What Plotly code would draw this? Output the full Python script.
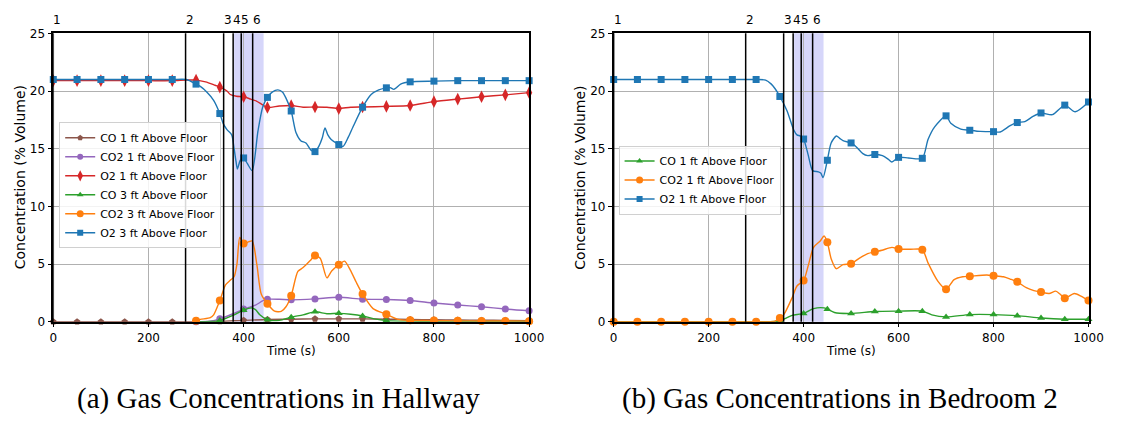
import plotly.graph_objects as go

# ---------------- data ----------------
event_times = [0, 278, 358, 378, 395, 419]
event_labels = ["1", "2", "3", "4", "5", "6"]
shade_span = [380, 442]

# Hallway (a)
hall_co_1ft_t = [0, 50, 100, 150, 200, 250, 300, 350, 400, 450, 500, 550, 600, 650, 700, 750, 800, 850, 900, 950, 1000]
hall_co_1ft_v = [0, 0, 0, 0, 0, 0, 0, 0.02, 0.12, 0.2, 0.22, 0.25, 0.25, 0.25, 0.22, 0.2, 0.17, 0.15, 0.13, 0.12, 0.1]

hall_co2_1ft_t = [300, 330, 350, 375, 400, 425, 440, 450, 475, 500, 550, 600, 650, 700, 750, 800, 850, 900, 950, 1000]
hall_co2_1ft_v = [0, 0.05, 0.25, 0.65, 1.1, 1.45, 1.8, 1.95, 1.95, 1.9, 1.98, 2.12, 1.95, 1.93, 1.84, 1.62, 1.45, 1.3, 1.1, 0.95]

hall_o2_1ft_t = [0, 50, 100, 150, 200, 250, 280, 300, 320, 340, 350, 365, 372, 385, 400, 415, 426, 440, 450, 475, 500, 525, 550, 575, 600, 625, 650, 700, 750, 800, 850, 900, 950, 1000]
hall_o2_1ft_v = [20.9, 20.9, 20.9, 20.9, 20.9, 20.9, 20.95, 20.95, 20.8, 20.5, 20.34, 20.0, 19.7, 19.55, 19.5, 19.3, 19.15, 18.8, 18.58, 18.7, 18.75, 18.6, 18.62, 18.6, 18.48, 18.6, 18.62, 18.67, 18.75, 19.08, 19.3, 19.5, 19.67, 19.86]

hall_co_3ft_t = [300, 330, 350, 375, 400, 416, 425, 434, 450, 475, 500, 525, 550, 575, 600, 625, 650, 675, 700, 750, 800, 850, 900, 950, 1000]
hall_co_3ft_v = [0, 0.02, 0.1, 0.5, 1.0, 1.2, 1.05, 0.6, 0.17, 0.12, 0.4, 0.6, 0.86, 0.7, 0.73, 0.65, 0.5, 0.25, 0.1, 0.05, 0.04, 0.04, 0.03, 0.03, 0.03]

hall_co2_3ft_t = [300, 309, 330, 337, 350, 362, 372, 380, 386, 392, 400, 409, 418, 428, 437, 450, 465, 479, 489, 500, 514, 525, 540, 550, 561, 575, 585, 600, 612, 624, 637, 650, 672, 700, 724, 750, 800, 850, 900, 950, 1000]
hall_co2_3ft_v = [0.08, 0.2, 0.35, 0.6, 1.84, 3.2, 3.6, 3.9, 5.0, 7.3, 6.79, 6.9, 7.0, 4.9, 2.4, 1.56, 0.92, 0.9, 1.3, 2.26, 4.36, 4.7, 5.3, 5.75, 5.5, 3.8, 4.4, 4.94, 5.25, 4.5, 3.4, 2.4, 1.14, 0.64, 0.2, 0.12, 0.1, 0.08, 0.07, 0.06, 0.05]

hall_o2_3ft_t = [0, 50, 100, 150, 200, 250, 280, 300, 309, 323, 337, 350, 357, 365, 375, 380, 384, 387, 393, 400, 408, 418, 430, 440, 450, 460, 472, 482, 490, 500, 510, 520, 531, 541, 550, 558, 565, 571, 577, 584, 600, 609, 620, 630, 650, 668, 684, 700, 708, 716, 730, 750, 800, 850, 900, 950, 1000]
hall_o2_3ft_v = [21.0, 21.0, 21.0, 21.0, 21.0, 21.0, 21.0, 20.6, 20.4, 19.9, 19.2, 18.05, 17.2, 16.65, 16.2, 15.0, 13.9, 13.24, 14.0, 14.2, 13.7, 13.1, 16.5, 18.6, 19.45, 19.9, 20.1, 19.9, 19.3, 18.27, 16.4, 15.7, 15.5, 14.9, 14.75, 15.2, 15.9, 16.8, 16.2, 15.8, 15.36, 15.2, 16.0, 16.9, 18.6, 19.7, 20.1, 20.28, 20.3, 20.15, 20.6, 20.8, 20.86, 20.9, 20.9, 20.9, 20.9]

# Bedroom 2 (b)
bed_co_1ft_t = [0, 50, 100, 150, 200, 250, 300, 340, 350, 365, 376, 400, 421, 443, 450, 465, 500, 550, 600, 650, 670, 700, 750, 800, 850, 900, 950, 1000]
bed_co_1ft_v = [0, 0, 0, 0, 0, 0, 0, 0.02, 0.1, 0.35, 0.55, 0.72, 1.14, 1.2, 1.09, 0.8, 0.72, 0.89, 0.92, 0.92, 0.6, 0.42, 0.62, 0.62, 0.53, 0.33, 0.22, 0.22]

bed_co2_1ft_t = [0, 50, 100, 150, 200, 250, 300, 320, 340, 350, 358, 376, 386, 400, 410, 421, 435, 443, 450, 458, 469, 483, 500, 517, 535, 550, 565, 586, 600, 625, 650, 662, 683, 700, 717, 735, 750, 786, 800, 821, 835, 850, 869, 885, 900, 917, 931, 940, 950, 970, 985, 1000]
bed_co2_1ft_v = [0, 0, 0, 0, 0, 0, 0, 0, 0.05, 0.33, 0.6, 2.1, 3.1, 3.57, 4.9, 6.45, 7.0, 7.43, 6.9, 5.47, 4.6, 4.95, 5.03, 5.5, 5.9, 6.06, 6.2, 6.45, 6.31, 6.28, 6.25, 5.1, 3.5, 2.82, 3.65, 3.9, 3.94, 4.05, 3.99, 3.9, 3.7, 3.46, 2.95, 2.7, 2.57, 2.45, 2.65, 2.4, 2.04, 2.45, 2.2, 1.84]

bed_o2_1ft_t = [0, 50, 100, 150, 200, 250, 300, 320, 332, 340, 350, 365, 379, 386, 393, 400, 410, 419, 431, 436, 441, 450, 458, 469, 476, 483, 500, 510, 524, 535, 550, 566, 578, 586, 600, 621, 650, 662, 676, 700, 710, 731, 750, 772, 800, 814, 835, 850, 866, 883, 900, 924, 950, 972, 1000]
bed_o2_1ft_v = [21.0, 21.0, 21.0, 21.0, 21.0, 21.0, 21.0, 20.95, 20.6, 20.2, 19.53, 18.3, 16.65, 16.2, 16.1, 15.84, 14.4, 13.1, 13.0, 12.9, 12.5, 14.0, 15.5, 16.1, 15.9, 15.7, 15.5, 15.2, 14.6, 14.4, 14.5, 14.4, 14.1, 13.85, 14.25, 14.2, 14.17, 15.8, 16.9, 17.85, 17.2, 16.7, 16.6, 16.5, 16.48, 16.45, 17.0, 17.27, 17.35, 17.8, 18.1, 17.95, 18.78, 18.2, 19.05]

x_ticks = [0, 200, 400, 600, 800, 1000]
y_ticks = [0, 5, 10, 15, 20, 25]

# ---------------- styles ----------------
BLUE, ORANGE, GREEN, RED, PURPLE, BROWN = "#1f77b4", "#ff7f0e", "#2ca02c", "#d62728", "#9467bd", "#8c564b"

hall = [
    ("CO 1 ft Above Floor", hall_co_1ft_t, hall_co_1ft_v, BROWN, "pentagon", 7),
    ("CO2 1 ft Above Floor", hall_co2_1ft_t, hall_co2_1ft_v, PURPLE, "circle", 7),
    ("O2 1 ft Above Floor", hall_o2_1ft_t, hall_o2_1ft_v, RED, "diamond-tall", 9),
    ("CO 3 ft Above Floor", hall_co_3ft_t, hall_co_3ft_v, GREEN, "triangle-up", 7),
    ("CO2 3 ft Above Floor", hall_co2_3ft_t, hall_co2_3ft_v, ORANGE, "circle", 8),
    ("O2 3 ft Above Floor", hall_o2_3ft_t, hall_o2_3ft_v, BLUE, "square", 7),
]
bed = [
    ("CO 1 ft Above Floor", bed_co_1ft_t, bed_co_1ft_v, GREEN, "triangle-up", 7),
    ("CO2 1 ft Above Floor", bed_co2_1ft_t, bed_co2_1ft_v, ORANGE, "circle", 8),
    ("O2 1 ft Above Floor", bed_o2_1ft_t, bed_o2_1ft_v, BLUE, "square", 7),
]

W, H = 1125, 421
OFF = 8  # page body margin


def px_x(p):
    return (p - OFF) / W


def px_y(p):
    return 1 - (p - OFF) / H


L_X = [px_x(50), px_x(534)]
R_X = [px_x(620), px_x(1103)]
Y_DOM = [px_y(325.3), px_y(27)]

fig = go.Figure()


def add_series(series, xa, ya, legend_id):
    for name, t, v, color, sym, size in series:
        fig.add_trace(go.Scatter(
            x=t, y=v, xaxis=xa, yaxis=ya, mode="lines",
            line=dict(color=color, width=1.4, shape="spline", smoothing=0.7),
            showlegend=False, hoverinfo="skip"))
        mt = [ti for ti in t if ti % 50 == 0]
        mv = [vi for ti, vi in zip(t, v) if ti % 50 == 0]
        fig.add_trace(go.Scatter(
            x=mt, y=mv, xaxis=xa, yaxis=ya, mode="markers",
            marker=dict(color=color, symbol=sym, size=size, line=dict(width=0)),
            showlegend=False, cliponaxis=False))
        fig.add_trace(go.Scatter(
            x=[None], y=[None], xaxis=xa, yaxis=ya, mode="lines+markers", name=name,
            line=dict(color=color, width=1.4),
            marker=dict(color=color, symbol=sym, size=size - 1, line=dict(width=0)),
            legend=legend_id))


add_series(hall, "x", "y", "legend")
add_series(bed, "x2", "y2", "legend2")

shapes = []
annotations = []
for xref, yref in (("x", "y"), ("x2", "y2")):
    shapes.append(dict(type="rect", xref=xref, yref=yref + " domain", x0=shade_span[0], x1=shade_span[1],
                       y0=0, y1=1, fillcolor="#d6d6fa", line=dict(width=0), layer="below"))
    for et, lab in zip(event_times, event_labels):
        shapes.append(dict(type="line", xref=xref, yref=yref + " domain", x0=et, x1=et, y0=0, y1=1,
                           line=dict(color="black", width=1.5), layer="above"))
        annotations.append(dict(x=et, y=px_y(13), xref=xref, yref="paper", text=lab, showarrow=False,
                                xanchor="left", yanchor="middle", xshift=-2,
                                font=dict(family="DejaVu Sans", size=12, color="black")))

title_font = dict(family="DejaVu Sans", size=14, color="black")
annotations += [
    dict(x=px_x(17), y=px_y(176), xref="paper", yref="paper", text="Concentration (% Volume)", textangle=-90,
         xanchor="center", yanchor="middle", showarrow=False, font=title_font),
    dict(x=px_x(586), y=px_y(176), xref="paper", yref="paper", text="Concentration (% Volume)", textangle=-90,
         xanchor="center", yanchor="middle", showarrow=False, font=title_font),
    dict(x=sum(L_X) / 2, y=px_y(356), xref="paper", yref="paper", text="Time (s)", showarrow=False,
         xanchor="center", yanchor="middle", font=dict(family="DejaVu Sans", size=12, color="black")),
    dict(x=sum(R_X) / 2, y=px_y(356), xref="paper", yref="paper", text="Time (s)", showarrow=False,
         xanchor="center", yanchor="middle", font=dict(family="DejaVu Sans", size=12, color="black")),
    dict(x=px_x(279), y=px_y(405), xref="paper", yref="paper", text="(a) Gas Concentrations in Hallway",
         xanchor="center", yanchor="middle", showarrow=False,
         font=dict(family="Liberation Serif", size=29, color="black")),
    dict(x=px_x(850), y=px_y(405), xref="paper", yref="paper", text="(b) Gas Concentrations in Bedroom 2",
         xanchor="center", yanchor="middle", showarrow=False,
         font=dict(family="Liberation Serif", size=29, color="black")),
]

axis_common = dict(showline=True, mirror=True, linecolor="black", linewidth=1.5,
                   ticks="outside", ticklen=4, tickcolor="black", tickwidth=1,
                   showgrid=True, gridcolor="#b0b0b0", gridwidth=1, zeroline=False,
                   tickfont=dict(family="DejaVu Sans", size=12, color="black"))

fig.update_layout(
    width=W, height=H, margin=dict(l=0, r=0, t=0, b=0),
    paper_bgcolor="white", plot_bgcolor="white",
    xaxis=dict(domain=L_X, range=[0, 1000], tickvals=x_ticks, anchor="y", **axis_common),
    yaxis=dict(domain=Y_DOM, range=[0, 25], tickvals=y_ticks, anchor="x", **axis_common),
    xaxis2=dict(domain=R_X, range=[0, 1000], tickvals=x_ticks, anchor="y2", **axis_common),
    yaxis2=dict(domain=Y_DOM, range=[0, 25], tickvals=y_ticks, anchor="x2", **axis_common),
    legend=dict(x=px_x(56), y=px_y(119), xanchor="left", yanchor="top",
                bgcolor="rgba(255,255,255,0.85)", bordercolor="#d0d0d0", borderwidth=1,
                font=dict(family="DejaVu Sans", size=11, color="black"), tracegroupgap=0),
    legend2=dict(x=px_x(625), y=px_y(143), xanchor="left", yanchor="top",
                 bgcolor="rgba(255,255,255,0.85)", bordercolor="#d0d0d0", borderwidth=1,
                 font=dict(family="DejaVu Sans", size=11, color="black"), tracegroupgap=0),
    shapes=shapes, annotations=annotations, showlegend=True,
)

fig.write_html("out.html")
